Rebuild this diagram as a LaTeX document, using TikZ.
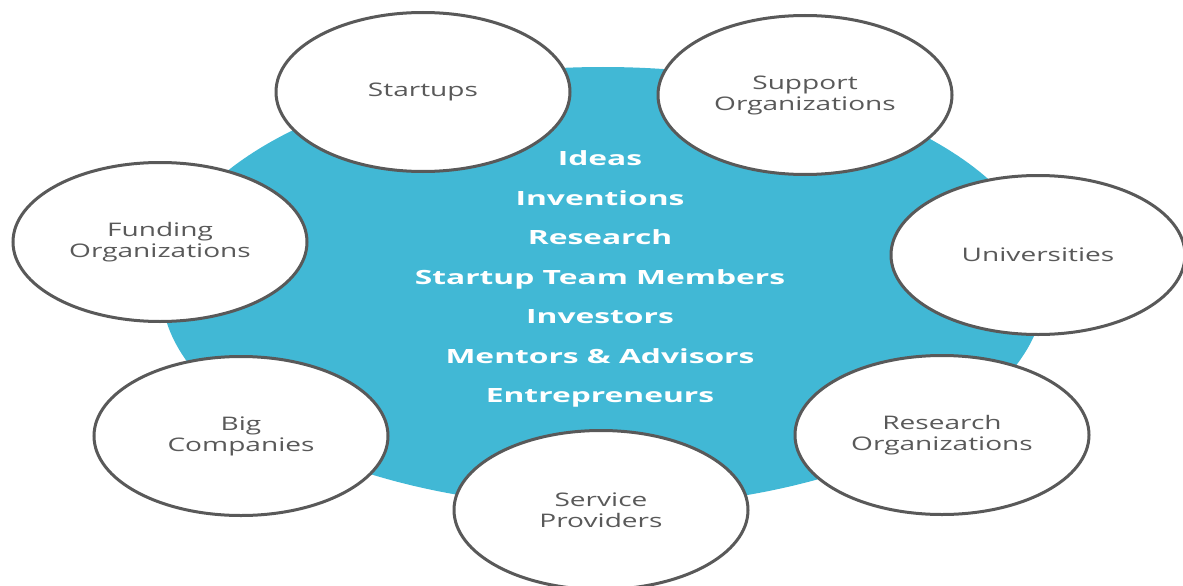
\documentclass[tikz,border=0pt]{standalone}
\usepackage{fontspec}
\usetikzlibrary{shapes.geometric}
\newfontfamily\ouvert[FakeStretch=1.5]{Open Sans}
\newfontfamily\ouvertgras[FakeStretch=1.62]{Open Sans}
\definecolor{turquoise}{HTML}{41B8D5}
\definecolor{grisbord}{HTML}{595959}

\begin{document}
\begin{tikzpicture}[x=1pt, y=-1pt]
\tikzset{bulle/.style={draw=grisbord, line width=3pt, fill=white, ellipse, inner sep=0pt, minimum width=294pt, minimum height=159pt, align=center, text=grisbord, font=\ouvert\fontsize{18.7}{21}\selectfont}}
\clip (0, 0) rectangle (1183, 586);
\node[ellipse, fill=turquoise, inner sep=0pt, minimum width=884pt, minimum height=440pt] (noyau) at (603, 287) {};
\node[text=white, align=center, font=\ouvertgras\bfseries\fontsize{19.6}{39.5}\selectfont] (liste) at (600, 279) {Ideas\\Inventions\\Research\\Startup Team Members\\Investors\\Mentors \& Advisors\\Entrepreneurs};
\node[bulle] (A1) at (423, 92) {Startups};
\node[bulle] (A2) at (805, 95) {Support\\Organizations};
\node[bulle] (A3) at (1038, 255) {Universities};
\node[bulle] (A4) at (942, 435) {Research\\Organizations};
\node[bulle] (A5) at (601, 510) {Service\\Providers};
\node[bulle] (A6) at (241, 436) {Big\\Companies};
\node[bulle] (A7) at (160, 242) {Funding\\Organizations};
\end{tikzpicture}
\end{document}
